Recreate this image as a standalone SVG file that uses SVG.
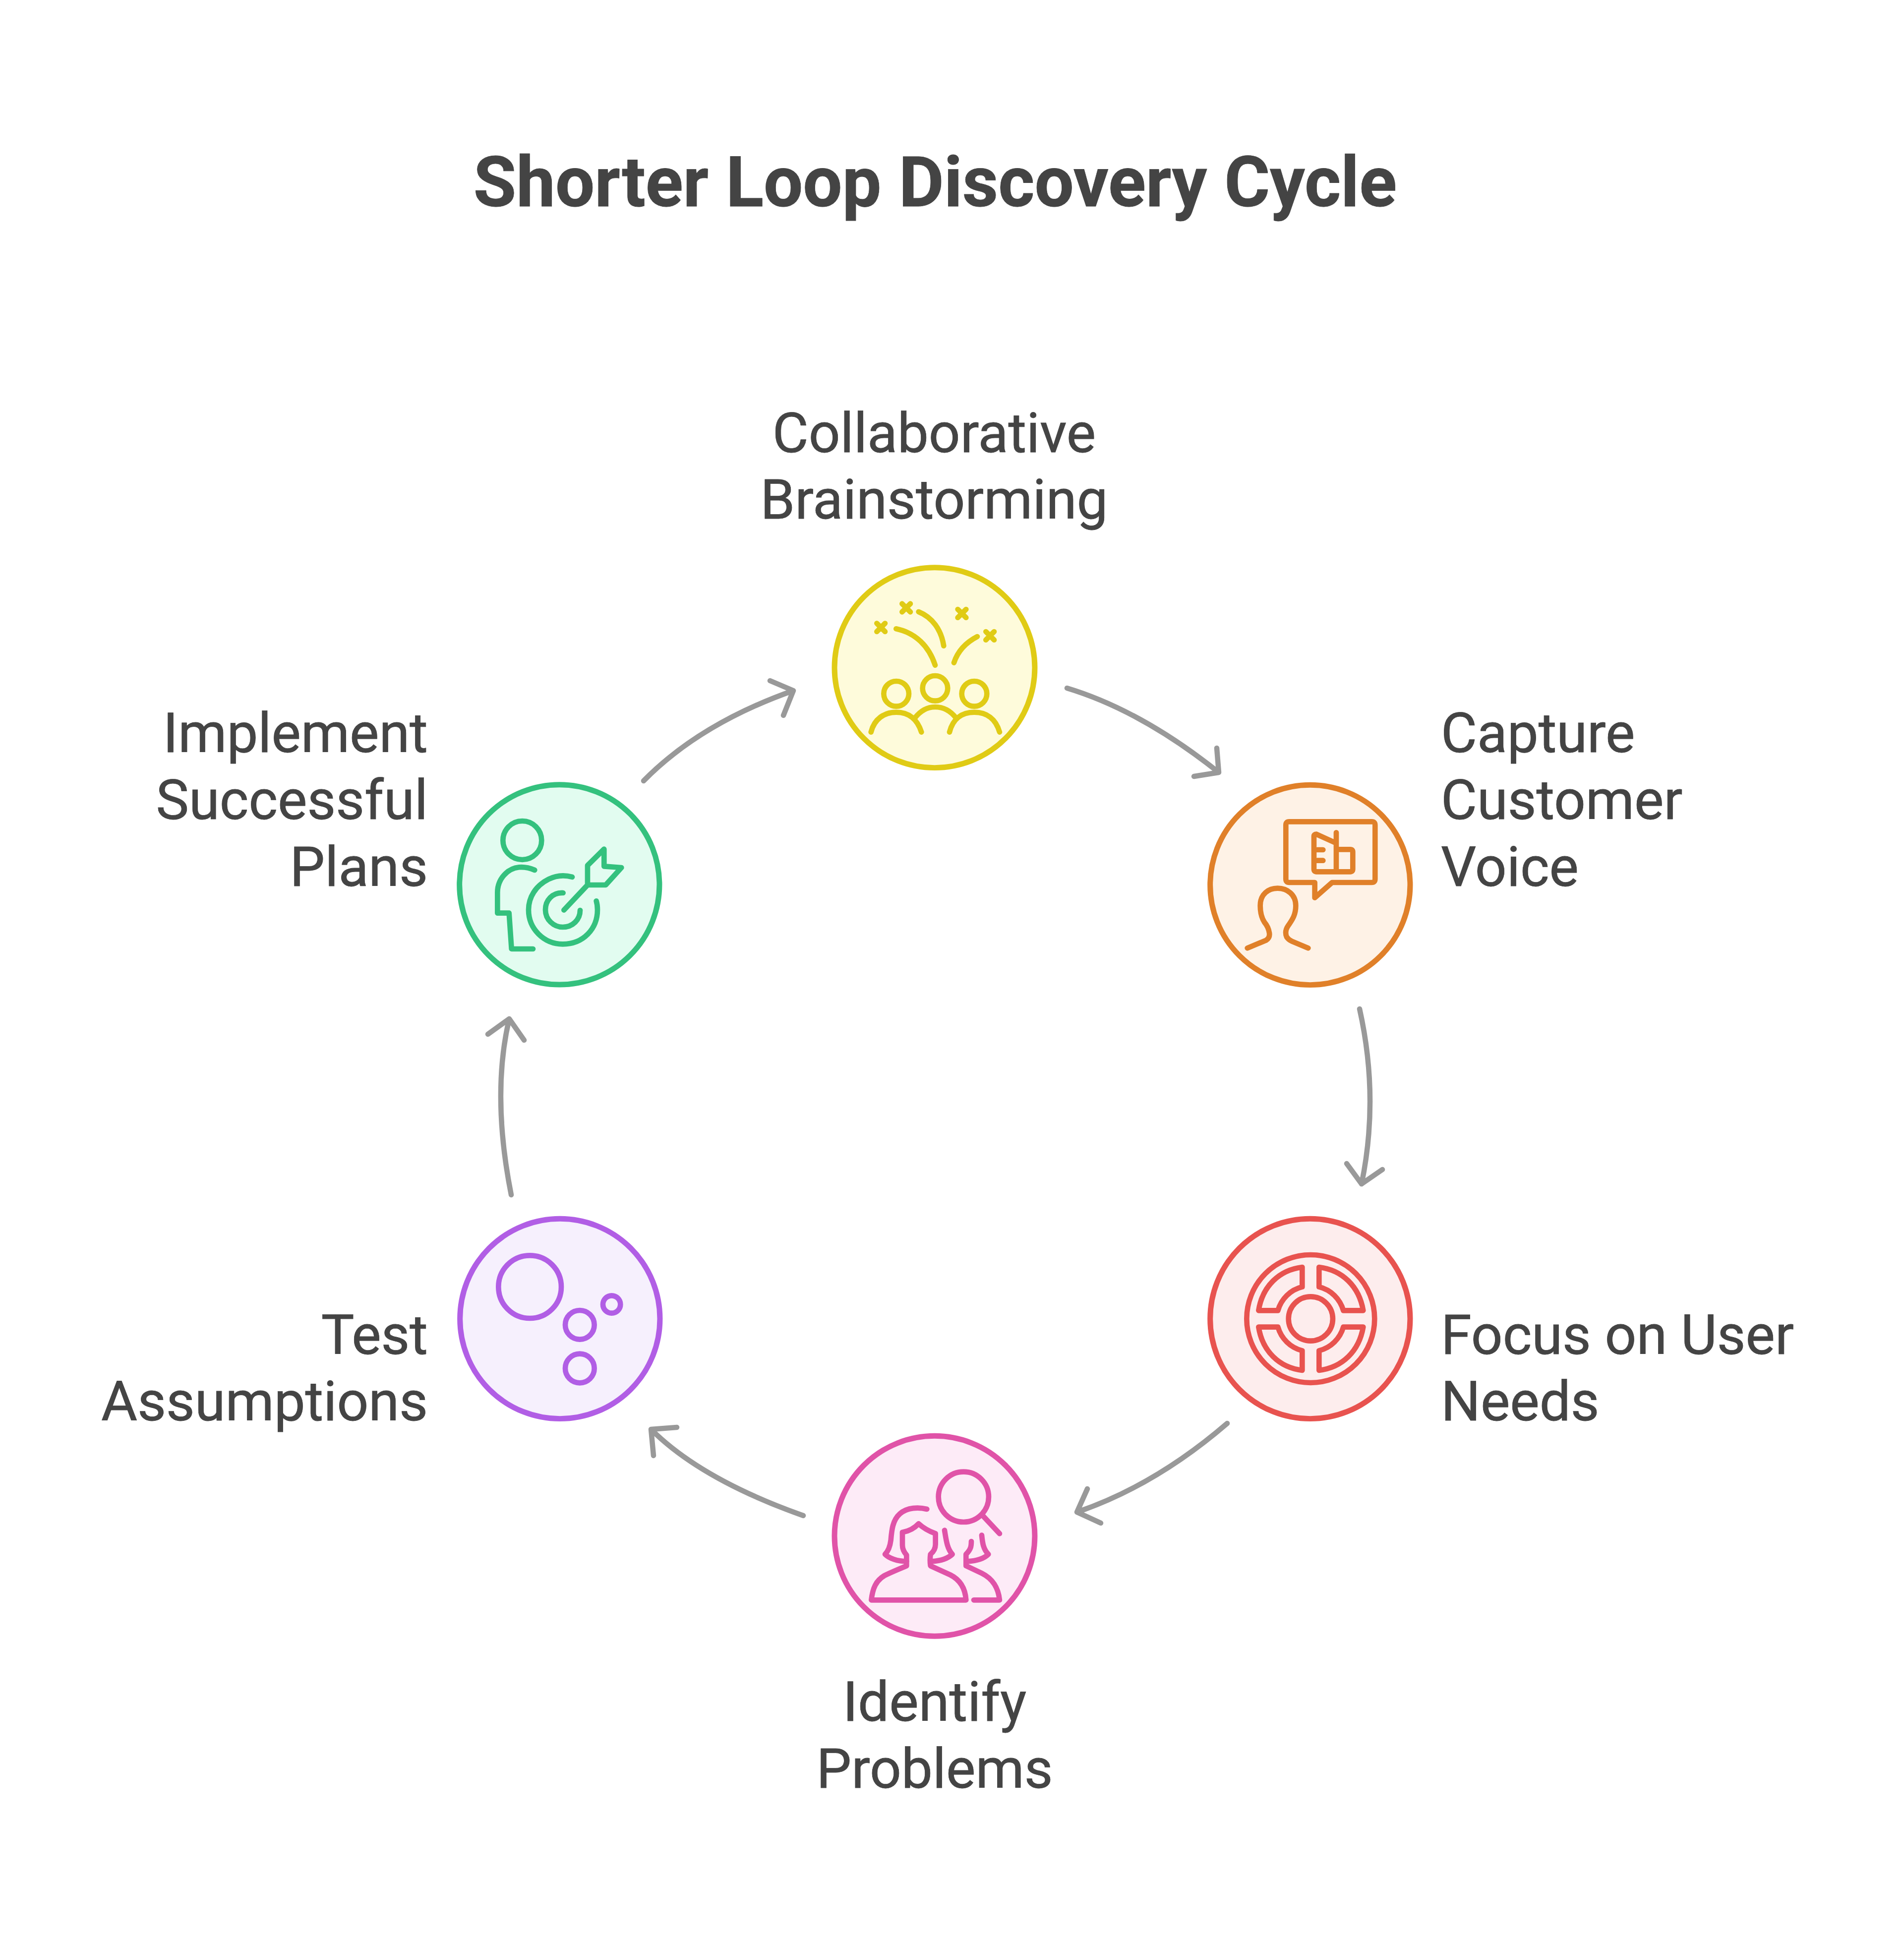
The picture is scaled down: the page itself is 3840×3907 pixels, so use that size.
<svg xmlns="http://www.w3.org/2000/svg" width="3840" height="3907" viewBox="0 0 3840 3907">
<style>
text{font-family:Roboto,"Liberation Sans",sans-serif;fill:#444;stroke:#444;stroke-width:.8px}
.t{font-size:140.5px;font-weight:700;text-anchor:middle}
.l{font-size:112px;font-weight:400}
.c{fill:none;stroke:#999;stroke-width:10.5;stroke-linecap:round;stroke-linejoin:round}
.i{fill:none;stroke-width:32;stroke-linecap:round;stroke-linejoin:round}
.b{stroke-width:33}
</style>
<rect width="3840" height="3907" fill="#fff"/>
<text id="title" class="t" x="1886" y="416">Shorter Loop Discovery Cycle</text>
<g id="connectors" class="c">
<path d="M2152 1388Q2301 1433 2458 1558M2454 1509L2458 1558L2408 1566"/>
<path d="M2742 2035Q2782 2214 2746 2388M2716 2347L2746 2388L2788 2359"/>
<path d="M2475 2871Q2330 2996 2172 3050M2193 3003L2172 3050L2220 3072"/>
<path d="M1620 3057Q1414 2984 1313 2883M1365 2879L1313 2883L1318 2936"/>
<path d="M1031 2410Q991 2208 1027 2055M984 2086L1027 2055L1057 2098"/>
<path d="M1298 1575Q1411 1460 1600 1393M1553 1373L1600 1393L1580 1443"/>
</g>
<g id="node-brainstorming">
<g transform="translate(1660 1130) scale(.3333)" class="i" stroke="#E0CB15">
<circle class="b" cx="675" cy="650" r="606" fill="#FEFBDB"/>
<path d="M478 263L528 313M528 263L478 313M325 382L375 432M375 382L325 432M815 297L865 347M865 297L815 347M985 432L1035 482M1035 432L985 482"/>
<path d="M442 415C560 440 640 520 678 635M578 312C660 345 715 420 730 518M933 462C860 500 815 550 792 620"/>
<circle cx="443" cy="808" r="76"/><circle cx="678" cy="775" r="76"/><circle cx="915" cy="808" r="76"/>
<path d="M290 1040C310 960 370 920 443 920S570 960 595 1040M765 1040C785 960 840 920 915 920S1045 960 1068 1040M555 955C590 910 630 888 678 888S770 910 805 955"/>
</g>
<text class="l" text-anchor="middle"><tspan x="1884" y="912">Collaborative</tspan><tspan x="1884" y="1046">Brainstorming</tspan></text>
</g>
<g id="node-voice">
<g transform="translate(2425 1570) scale(.3333)" class="i" stroke="#E08029">
<circle class="b" cx="652" cy="645" r="605" fill="#FEF2E6"/>
<path d="M525 262H1025Q1045 262 1045 282V610Q1045 630 1025 630H785L680 722V630H525Q505 630 505 610V282Q505 262 525 262Z"/>
<path d="M810 328V565M690 338L805 390M675 350V550Q675 565 690 565H895Q910 565 910 550V445Q910 430 895 430H815M695 432H730M695 497H730M675 350Q675 338 690 338"/>
<path d="M272 1027L385 980Q410 965 405 935Q400 900 375 870Q350 830 350 770C350 700 400 665 455 665C515 665 565 705 565 770C565 830 540 860 520 890Q495 925 510 960Q520 975 540 985L640 1027"/>
</g>
<text class="l"><tspan x="2906" y="1517">Capture</tspan><tspan x="2906" y="1652">Customer</tspan><tspan x="2906" y="1787">Voice</tspan></text>
</g>
<g id="node-needs">
<g transform="translate(2425 2445) scale(.3333)" class="i" stroke="#E8534F">
<circle class="b" cx="652" cy="645" r="605" fill="#FDEDED"/>
<circle cx="655" cy="645" r="387"/><circle cx="655" cy="645" r="134"/>
<path d="M706 333V452C778 470 833 525 853 595H973C948 450 848 350 706 333Z"/>
<path d="M604 333V452C532 470 477 525 457 595H340C363 450 463 350 604 333Z"/>
<path d="M706 957V838C778 820 833 765 853 695H973C948 840 848 940 706 957Z"/>
<path d="M604 957V838C532 820 477 765 457 695H340C363 840 463 940 604 957Z"/>
</g>
<text class="l"><tspan x="2906" y="2731">Focus on User</tspan><tspan x="2906" y="2865">Needs</tspan></text>
</g>
<g id="node-problems">
<g transform="translate(1660 2880) scale(.3333)" class="i" stroke="#E053A8">
<circle class="b" cx="675" cy="655" r="606" fill="#FDEBF7"/>
<circle cx="850" cy="418" r="152"/>
<path d="M965 530L1068 640"/>
<path d="M628 492C580 480 510 480 465 520C420 560 415 620 410 680C405 720 395 745 375 765C400 790 450 808 505 808"/>
<path d="M292 1042C300 970 320 925 370 895C410 875 460 855 505 835V770Q480 740 480 710V632C520 625 555 605 578 580C605 605 640 625 680 640V705Q680 740 650 765Q645 800 650 835L770 890C830 920 860 970 865 1042Z"/>
<path d="M735 620C745 680 750 730 782 765C755 790 710 805 660 808"/>
<path d="M897 687C897 715 895 735 865 765V835L960 880C1030 915 1060 970 1068 1042H912"/>
<path d="M960 650C965 700 970 735 1000 765C975 790 930 805 875 808"/>
</g>
<text class="l" text-anchor="middle"><tspan x="1885" y="3471">Identify</tspan><tspan x="1885" y="3606">Problems</tspan></text>
</g>
<g id="node-assumptions">
<g transform="translate(910 2445) scale(.3333)" class="i" stroke="#B15EE5">
<circle class="b" cx="658" cy="645" r="605" fill="#F6F0FD"/>
<circle cx="476" cy="452" r="190"/><circle cx="778" cy="682" r="88"/><circle cx="778" cy="945" r="88"/><circle cx="971" cy="558" r="53"/>
</g>
<text class="l" text-anchor="end"><tspan x="863" y="2731">Test</tspan><tspan x="863" y="2865">Assumptions</tspan></text>
</g>
<g id="node-plans">
<g transform="translate(910 1570) scale(.3333)" class="i" stroke="#34C17E">
<circle class="b" cx="655" cy="643" r="605" fill="#E2FCF0"/>
<circle cx="430" cy="375" r="117"/>
<path d="M505 555C470 540 440 535 410 538C340 545 280 610 280 690V815H350L365 1032H495"/>
<path d="M732 597C690 585 640 585 590 610C510 650 468 720 468 795C468 910 560 1003 675 1003C800 1003 885 910 885 795C885 775 882 755 878 742"/>
<path d="M677 693C610 690 570 740 570 795C570 855 620 900 675 900C735 900 780 855 780 798"/>
<path d="M682 797L825 645M825 645V527L925 428V532L1030 540L935 645Z"/>
</g>
<text class="l" text-anchor="end"><tspan x="863" y="1517">Implement</tspan><tspan x="863" y="1652">Successful</tspan><tspan x="863" y="1787">Plans</tspan></text>
</g>
</svg>
